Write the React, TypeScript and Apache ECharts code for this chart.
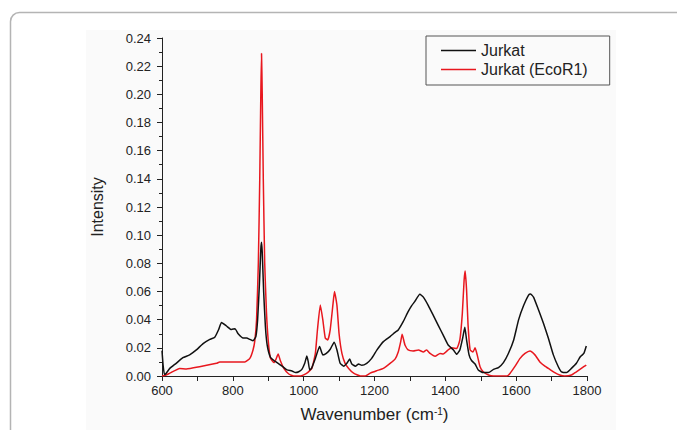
import React, { useEffect, useRef } from "react";
import * as echarts from "echarts";

const jurkatWavenumber = [
  600, 603, 607, 612, 622, 640, 659, 678, 697, 716, 735, 749, 760, 768, 782, 796, 806, 815, 829, 839, 848, 857,
  865, 870, 875, 879, 881, 883, 887, 892, 897, 906, 916, 925, 939, 953, 967, 977, 986, 995, 1003, 1009, 1013, 1017,
  1022, 1033, 1045, 1054, 1064, 1075, 1086, 1094, 1103, 1113, 1122, 1130, 1136, 1146, 1155, 1164, 1178, 1192, 1207,
  1225, 1244, 1258, 1267, 1281, 1295, 1305, 1314, 1328, 1338, 1352, 1366, 1380, 1394, 1408, 1423, 1432, 1441, 1449,
  1455, 1460, 1467, 1474, 1484, 1493, 1507, 1522, 1536, 1550, 1564, 1578, 1593, 1607, 1621, 1635, 1641, 1649, 1663,
  1677, 1691, 1705, 1719, 1728, 1742, 1756, 1770, 1781, 1791, 1798,
];
const jurkatIntensity = [
  0.018, 0.008, 0.001, 0.002, 0.0054, 0.009, 0.013, 0.015, 0.0185, 0.023, 0.026, 0.0275, 0.033, 0.038, 0.0355, 0.033,
  0.0336, 0.03, 0.027, 0.027, 0.026, 0.025, 0.028, 0.04, 0.065, 0.09, 0.095, 0.088, 0.06, 0.035, 0.022, 0.0133, 0.011,
  0.0095, 0.007, 0.0043, 0.0036, 0.0024, 0.003, 0.0047, 0.009, 0.0142, 0.01, 0.0043, 0.0054, 0.0125, 0.021, 0.015,
  0.016, 0.019, 0.024, 0.0185, 0.009, 0.007, 0.009, 0.012, 0.0085, 0.007, 0.0085, 0.0076, 0.009, 0.0125, 0.0185,
  0.0244, 0.028, 0.031, 0.0327, 0.0386, 0.0457, 0.05, 0.053, 0.058, 0.056, 0.05, 0.043, 0.036, 0.029, 0.022, 0.0185,
  0.0154, 0.0185, 0.027, 0.0346, 0.0256, 0.015, 0.011, 0.0085, 0.0043, 0.0024, 0.0024, 0.0047, 0.006, 0.0095, 0.016,
  0.0256, 0.04, 0.05, 0.0575, 0.0582, 0.056, 0.047, 0.0374, 0.0268, 0.015, 0.0066, 0.003, 0.0024, 0.0054, 0.009,
  0.0137, 0.016, 0.0213,
];

const ecorWavenumber = [
  600, 610, 622, 650, 669, 706, 754, 763, 801, 834, 848, 857, 862, 867, 872, 876, 879, 881, 883, 886, 890, 895, 900,
  906, 916, 922, 928, 934, 944, 958, 972, 991, 1009, 1023, 1033, 1039, 1047, 1054, 1061, 1068, 1075, 1083, 1087, 1094,
  1100, 1108, 1117, 1127, 1141, 1160, 1174, 1188, 1207, 1225, 1244, 1258, 1267, 1274, 1278, 1286, 1295, 1309, 1324,
  1338, 1347, 1357, 1371, 1385, 1394, 1408, 1418, 1432, 1441, 1448, 1453, 1456, 1460, 1464, 1470, 1478, 1484, 1490,
  1498, 1507, 1522, 1536, 1574, 1583, 1597, 1611, 1625, 1639, 1653, 1667, 1681, 1695, 1709, 1723, 1737, 1756, 1770,
  1784, 1798,
];
const ecorIntensity = [
  0, 0.0005, 0.002, 0.0054, 0.005, 0.0066, 0.009, 0.01, 0.01, 0.01, 0.0125, 0.0185, 0.025, 0.04, 0.08, 0.14, 0.2,
  0.229, 0.2, 0.14, 0.08, 0.045, 0.025, 0.013, 0.0095, 0.012, 0.0156, 0.011, 0.0054, 0.0014, 0, 0, 0.002, 0.0054,
  0.016, 0.033, 0.0504, 0.04, 0.027, 0.0256, 0.033, 0.0516, 0.06, 0.05, 0.03, 0.016, 0.009, 0.0054, 0.002, 0, 0,
  0.002, 0.0038, 0.0054, 0.009, 0.012, 0.017, 0.0244, 0.0296, 0.022, 0.0185, 0.0178, 0.0185, 0.017, 0.0185, 0.016,
  0.014, 0.016, 0.0156, 0.0185, 0.02, 0.0196, 0.0256, 0.0445, 0.068, 0.0746, 0.061, 0.037, 0.0185, 0.017, 0.02,
  0.015, 0.0066, 0.003, 0.0007, 0, 0, 0.002, 0.007, 0.0125, 0.016, 0.0178, 0.015, 0.01, 0.007, 0.0047, 0.0024,
  0.0007, 0, 0.0007, 0.003, 0.0054, 0.0078,
];

const seriesNames = ["Jurkat", "Jurkat (EcoR1)"];
const xTitle = "Wavenumber (cm{sup|-1})";
const yTitle = "Intensity";

const FONT = "'Liberation Sans', Arial, sans-serif";

export default function App() {
  const ref = useRef<HTMLDivElement>(null);
  useEffect(() => {
    if (!ref.current) return;
    const chart = echarts.init(ref.current, undefined, { renderer: "svg" });
    const pair = (xs: number[], ys: number[]) => xs.map((x, i) => [x, ys[i]]);
    chart.setOption({
      animation: false,
      backgroundColor: "#ffffff",
      textStyle: { fontFamily: FONT },
      graphic: [
        {
          type: "rect",
          z: -10,
          silent: true,
          shape: { x: 86, y: 30, width: 530, height: 420 },
          style: { fill: "#fafafa", stroke: "none" },
        },
        {
          type: "rect",
          z: -5,
          silent: true,
          shape: { x: 10.5, y: 12.5, width: 800, height: 800, r: 9 },
          style: { fill: "none", stroke: "#b4b4b4", lineWidth: 1.5 },
        },
      ],
      grid: { left: 162, right: 90, top: 38, bottom: 54, containLabel: false },
      legend: {
        left: 426,
        top: 36,
        orient: "vertical",
        borderColor: "#555",
        borderWidth: 1,
        padding: [6, 22, 7, 15],
        icon: "rect",
        itemWidth: 35,
        itemHeight: 1.4,
        itemGap: 2,
        textStyle: { fontFamily: FONT, fontSize: 16, color: "#222", lineHeight: 17 },
        data: seriesNames,
      },
      xAxis: {
        type: "value",
        min: 600,
        max: 1800,
        interval: 100,
        splitLine: { show: false },
        axisLine: { lineStyle: { color: "#222", width: 1 } },
        axisTick: { length: 5, lineStyle: { color: "#222" } },
        axisLabel: {
          color: "#222",
          fontSize: 13,
          fontFamily: FONT,
          margin: 8,
          formatter: (v: number) => (v % 200 === 0 ? String(v) : ""),
        },
        name: xTitle,
        nameLocation: "middle",
        nameGap: 30,
        nameTextStyle: {
          fontFamily: FONT,
          fontSize: 17,
          color: "#222",
          verticalAlign: "top",
          rich: { sup: { fontSize: 10, verticalAlign: "top", padding: [0, 0, 6, 0], fontFamily: FONT, color: "#222" } },
        },
      },
      yAxis: {
        type: "value",
        min: 0,
        max: 0.24,
        interval: 0.02,
        splitLine: { show: false },
        axisLine: { show: true, lineStyle: { color: "#222", width: 1 } },
        axisTick: { show: true, length: 5, lineStyle: { color: "#222" } },
        minorTick: { show: true, splitNumber: 2, length: 3, lineStyle: { color: "#222" } },
        axisLabel: {
          color: "#222",
          fontSize: 13,
          fontFamily: FONT,
          margin: 11,
          formatter: (v: number) => v.toFixed(2),
        },
        name: yTitle,
        nameLocation: "middle",
        nameRotate: 90,
        nameGap: 57,
        nameTextStyle: { fontFamily: FONT, fontSize: 16, color: "#222" },
      },
      series: [
        {
          name: seriesNames[0],
          type: "line",
          symbol: "none",
          smooth: 0.15,
          data: pair(jurkatWavenumber, jurkatIntensity),
          lineStyle: { color: "#111111", width: 1.5 },
          itemStyle: { color: "#111111" },
          z: 3,
        },
        {
          name: seriesNames[1],
          type: "line",
          symbol: "none",
          smooth: 0.15,
          data: pair(ecorWavenumber, ecorIntensity),
          lineStyle: { color: "#e8171e", width: 1.5 },
          itemStyle: { color: "#e8171e" },
          z: 2,
        },
      ],
    });
    return () => chart.dispose();
  }, []);
  return <div ref={ref} style={{ position: "absolute", left: 0, top: 0, width: 677, height: 430 }} />;
}
